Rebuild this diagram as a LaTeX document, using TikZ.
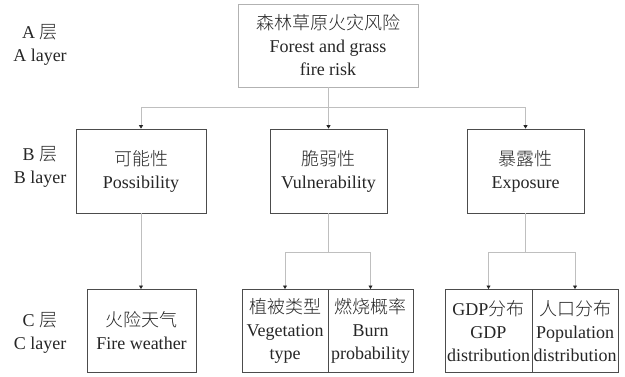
\documentclass[tikz,border=0pt]{standalone}
\usepackage{fontspec}
\setmainfont{Liberation Serif}
\newfontfamily\cjk{Noto Sans CJK SC}[UprightFont=* Light]
\usetikzlibrary{arrows.meta}
\newcommand{\zh}[1]{{\cjk #1}}

\begin{document}
\begin{tikzpicture}[x=1pt,y=-1pt,
  font=\fontsize{18}{23}\selectfont,
  every node/.style={align=center,inner sep=0pt,text=black!85},
  topbox/.style={draw=black!30,line width=0.8pt,minimum width=180,minimum height=83},
  bbox/.style={draw=black!70,line width=0.8pt,minimum width=117,minimum height=84},
  cbox/.style={draw=black!70,line width=0.8pt,minimum height=83,anchor=north},
  link/.style={draw=black!25,line width=0.7pt},
  arr/.style={link,-{Triangle[length=3.5pt,width=4pt,black!85]}}]
\useasboundingbox (0,0) rectangle (625,376);
\fill[white] (0,0) rectangle (625,376);
% layer names
\node (la) at (40,45) {A \zh{层}\\A layer};
\node (lb) at (40,166.5) {B \zh{层}\\B layer};
\node (lc) at (40,332.5) {C \zh{层}\\C layer};
% A layer
\node[topbox] (risk) at (328,45.5) {\zh{森林草原火灾风险}\\Forest and grass\\fire risk};
% B layer
\node[bbox,minimum width=130] (poss) at (141,171) {\zh{可能性}\\Possibility};
\node[bbox] (vuln) at (328.5,171) {\zh{脆弱性}\\Vulnerability};
\node[bbox] (expo) at (525.5,171) {\zh{暴露性}\\Exposure};
% C layer
\node[cbox,minimum width=109] (weather) at (141.5,289) {\zh{火险天气}\\Fire weather};
\node[cbox,minimum width=86] (veg) at (285,289) {\zh{植被类型}\\Vegetation\\type};
\node[cbox,minimum width=85] (burn) at (370.5,289) {\zh{燃烧概率}\\Burn\\probability};
\node[cbox,minimum width=87] (gdp) at (488.5,289) {GDP\zh{分布}\\GDP\\distribution};
\node[cbox,minimum width=86] (pop) at (575,289) {\zh{人口分布}\\Population\\distribution};
% A to B
\draw[link] (risk.south) -- ++(0,20) coordinate (rj);
\draw[link] (poss.north |- rj) -- (expo.north |- rj);
\foreach \n in {poss,vuln,expo}
  \draw[arr] (\n.north |- rj) -- (\n.north);
% B to C
\draw[arr] (poss.south) -- (poss.south |- weather.north);
\draw[link] (vuln.south) -- ++(0,39) coordinate (vj);
\draw[link] (veg.north |- vj) -- (burn.north |- vj);
\draw[arr] (veg.north |- vj) -- (veg.north);
\draw[arr] (burn.north |- vj) -- (burn.north);
\draw[link] (expo.south) -- ++(0,39) coordinate (ej);
\draw[link] (gdp.north |- ej) -- (pop.north |- ej);
\draw[arr] (gdp.north |- ej) -- (gdp.north);
\draw[arr] (pop.north |- ej) -- (pop.north);
\end{tikzpicture}
\end{document}
